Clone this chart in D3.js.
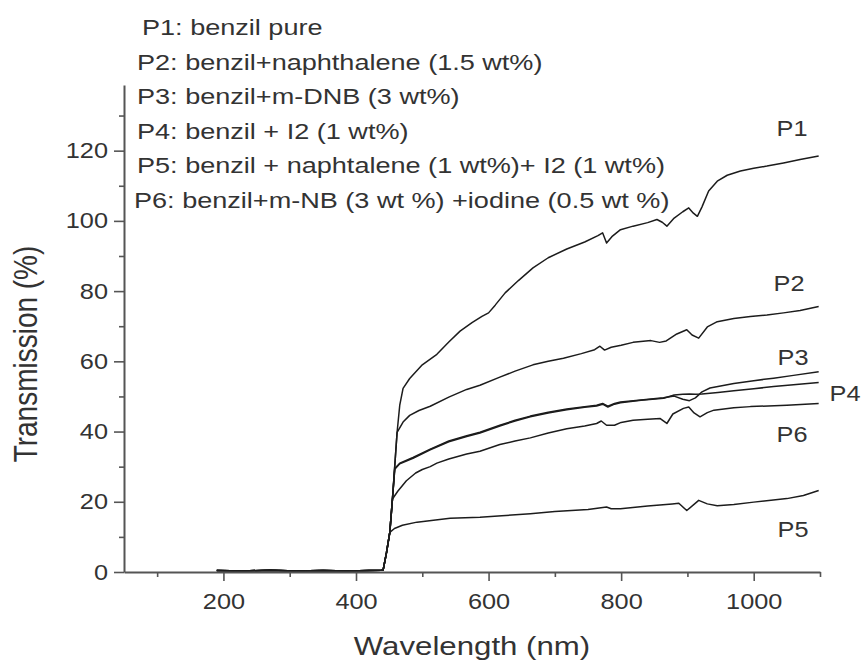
<!DOCTYPE html>
<html><head><meta charset="utf-8">
<script src="https://cdn.jsdelivr.net/npm/d3@7"></script>
<style>body{margin:0;background:#fff} svg{display:block}</style>
</head><body><svg id="chart" width="865" height="670"></svg>
<script>
// ---------- data ----------
const xTicks = [200, 400, 600, 800, 1000];
const xMinorTicks = [100, 300, 500, 700, 900, 1100];
const yTicks = [0, 20, 40, 60, 80, 100, 120];
const yMinorTicks = [10, 30, 50, 70, 90, 110, 130];
const seriesNames = ["P1", "P2", "P3", "P4", "P5", "P6"];
const legendLabels = [
  "P1: benzil pure",
  "P2: benzil+naphthalene (1.5 wt%)",
  "P3: benzil+m-DNB (3 wt%)",
  "P4: benzil + I2 (1 wt%)",
  "P5: benzil + naphtalene (1 wt%)+ I2 (1 wt%)",
  "P6: benzil+m-NB (3 wt %) +iodine (0.5 wt %)"
];
const xTitle = "Wavelength (nm)";
const yTitle = "Transmission (%)";

// shared flat part below the absorption edge
const baseline = [[190,0.4],[230,0.3],[270,0.5],[310,0.3],[350,0.4],[390,0.3],[420,0.4],[438,0.5],[441,0.6],[446,5.5],[451,11.3]];

const p1 = [[455,20.8],[458.5,30.3],[462,39.8],[466,47.5],[471,52.3],[481,55.1],[500,59],[522,62],[540,65.5],[557,68.6],[575,71],[590,72.8],[600,73.8],[610,76],[625,79.5],[645,83],[667,86.6],[690,89.5],[718,92],[745,94],[765,95.8],[772,96.6],[778,93.7],[786,95.5],[799,97.5],[818,98.5],[840,99.5],[854,100.4],[862,99.6],[869,98.5],[880,100.8],[893,102.6],[902,103.7],[909,102.2],[915,101.3],[922,104],[932,108.5],[945,111.3],[960,113],[980,114.2],[1000,115],[1020,115.6],[1045,116.5],[1070,117.5],[1098,118.5]];
const p2 = [[455,20.8],[458.5,30.3],[462,39.8],[471,42.7],[481,44.6],[495,46],[512,47.2],[540,49.8],[567,52],[587,53.2],[617,55.5],[640,57.2],[667,59],[690,60],[713,60.9],[740,62.2],[760,63.3],[768,64.3],[775,63.2],[785,64],[800,64.6],[818,65.4],[845,65.9],[858,65.4],[868,65.8],[884,67.8],[899,69],[907,67.5],[917,66.6],[930,69.8],[945,71.3],[970,72.2],[995,72.8],[1020,73.2],[1045,73.8],[1070,74.5],[1098,75.6]];
const p3 = [[455,20.8],[458.5,29.5],[466,31],[486,32.6],[512,35],[540,37.3],[567,38.8],[587,39.8],[617,41.8],[640,43.2],[663,44.4],[690,45.5],[718,46.4],[745,47.1],[763,47.5],[772,48],[780,47.2],[790,48],[799,48.4],[830,49],[864,49.6],[880,50.1],[893,49.2],[903,48.8],[912,49.6],[922,51.3],[934,52.4],[946,52.8],[970,53.7],[1000,54.5],[1030,55.2],[1060,56],[1098,57]];
const p4 = [[455,20.8],[458.5,29.3],[466,30.8],[486,32.4],[512,34.8],[540,37.1],[567,38.6],[587,39.6],[617,41.6],[640,43],[663,44.2],[690,45.3],[718,46.2],[745,46.9],[763,47.3],[772,47.8],[780,47],[790,47.8],[799,48.2],[830,48.9],[864,49.5],[880,50.4],[893,50.6],[903,50.7],[912,50.6],[922,50.7],[934,50.9],[946,51.1],[970,51.6],[1000,52.2],[1030,52.8],[1060,53.3],[1098,54]];
const p5 = [[458,12.4],[470,13.3],[492,14.2],[520,14.8],[542,15.3],[587,15.6],[620,16],[663,16.6],[700,17.2],[750,17.8],[778,18.5],[785,18],[799,18],[840,18.8],[877,19.4],[887,19.6],[899,17.5],[917,20.4],[930,19.4],[945,18.9],[970,19.2],[1000,19.9],[1050,20.9],[1075,21.8],[1098,23.2]];
const p6 = [[455,20.8],[463,23],[476,26],[490,28.2],[500,29.2],[512,30],[522,31],[540,32.2],[567,33.6],[587,34.4],[617,36.3],[640,37.3],[663,38.2],[690,39.6],[718,40.8],[745,41.6],[763,42.3],[770,43],[778,41.8],[790,41.8],[800,42.6],[818,43.2],[840,43.5],[859,43.7],[869,42.3],[878,45],[894,46.6],[902,47],[910,45.3],[919,44.2],[930,45.4],[940,46.1],[970,46.8],[995,47.1],[1050,47.5],[1098,48]];
const seriesValues = [p1, p2, p3, p4, p5, p6];

// ---------- drawing ----------
const svg = d3.select("#chart");
const FONT = "'Liberation Sans', Arial, Helvetica, sans-serif";
const TEXT = "#333", AXIS = "#555", LINE = "#1c1c1c";

const x = d3.scaleLinear().domain([50, 1100]).range([124, 820]);
const y = d3.scaleLinear().domain([0, 138.7]).range([572, 85]);

// curves
const line = d3.line().x(d => x(d[0])).y(d => y(d[1]));
svg.append("g").selectAll("path")
  .data(seriesValues)
  .join("path")
  .attr("d", d => line(baseline.concat(d)))
  .attr("fill", "none")
  .attr("stroke", LINE)
  .attr("stroke-width", 1.5)
  .attr("stroke-linejoin", "round");

function styleAxis(g) {
  g.select(".domain").attr("stroke", AXIS).attr("stroke-width", 2);
  g.selectAll(".tick line").attr("stroke", AXIS).attr("stroke-width", 1.6);
  g.selectAll(".tick text").attr("fill", TEXT).attr("font-family", FONT).attr("font-size", 22).classed("stretch", true);
}

// x axis
const gx = svg.append("g").attr("transform", `translate(0,${y(0)})`);
gx.call(d3.axisBottom(x).tickValues(xTicks).tickSize(9).tickSizeOuter(0).tickPadding(12).tickFormat(d3.format("d")));
styleAxis(gx);
const gxm = svg.append("g").attr("transform", `translate(0,${y(0)})`);
gxm.call(d3.axisBottom(x).tickValues(xMinorTicks).tickSize(5).tickSizeOuter(0).tickFormat(""));
gxm.select(".domain").remove();
gxm.selectAll(".tick line").attr("stroke", AXIS).attr("stroke-width", 1.6);

// y axis
const gy = svg.append("g").attr("transform", `translate(${x(50)},0)`);
gy.call(d3.axisLeft(y).tickValues(yTicks).tickSize(10).tickSizeOuter(0).tickPadding(6).tickFormat(d3.format("d")));
styleAxis(gy);
const gym = svg.append("g").attr("transform", `translate(${x(50)},0)`);
gym.call(d3.axisLeft(y).tickValues(yMinorTicks).tickSize(5).tickSizeOuter(0).tickFormat(""));
gym.select(".domain").remove();
gym.selectAll(".tick line").attr("stroke", AXIS).attr("stroke-width", 1.6);

// axis titles
svg.append("text").attr("class", "stretch-x")
  .attr("x", (x(50) + x(1100)) / 2).attr("y", 655)
  .attr("text-anchor", "middle").attr("font-family", FONT).attr("font-size", 26).attr("fill", TEXT)
  .text(xTitle);
svg.append("text")
  .attr("transform", "translate(37,354) scale(1.2,1) rotate(-90)")
  .attr("text-anchor", "middle").attr("font-family", FONT).attr("font-size", 28).attr("fill", TEXT)
  .text(yTitle);

// legend block (top-left text)
svg.append("g").selectAll("text")
  .data(legendLabels)
  .join("text")
  .attr("class", "stretch-l")
  .attr("x", (d, i) => i === 0 ? 142 : (i === 5 ? 134 : 137))
  .attr("y", (d, i) => 35 + i * 34.5)
  .attr("font-family", FONT).attr("font-size", 22).attr("fill", TEXT)
  .text(d => d);

// curve labels at the right
const labelPos = [[792,136],[789,291],[793,365],[845,401],[793,537],[792,442]];
svg.append("g").selectAll("text")
  .data(seriesNames)
  .join("text")
  .attr("class", "stretch")
  .attr("x", (d, i) => labelPos[i][0])
  .attr("y", (d, i) => labelPos[i][1])
  .attr("text-anchor", "middle")
  .attr("font-family", FONT).attr("font-size", 22).attr("fill", TEXT)
  .text(d => d);

// horizontal stretch of glyphs (source figure is widened)
function stretch(sel, k) {
  sel.each(function () {
    const len = this.getComputedTextLength();
    d3.select(this).attr("textLength", len * k).attr("lengthAdjust", "spacingAndGlyphs");
  });
}
stretch(svg.selectAll("text.stretch"), 1.15);
stretch(svg.selectAll("text.stretch-x"), 1.2);
stretch(svg.selectAll("text.stretch-l"), 1.23);
</script>
</body></html>
